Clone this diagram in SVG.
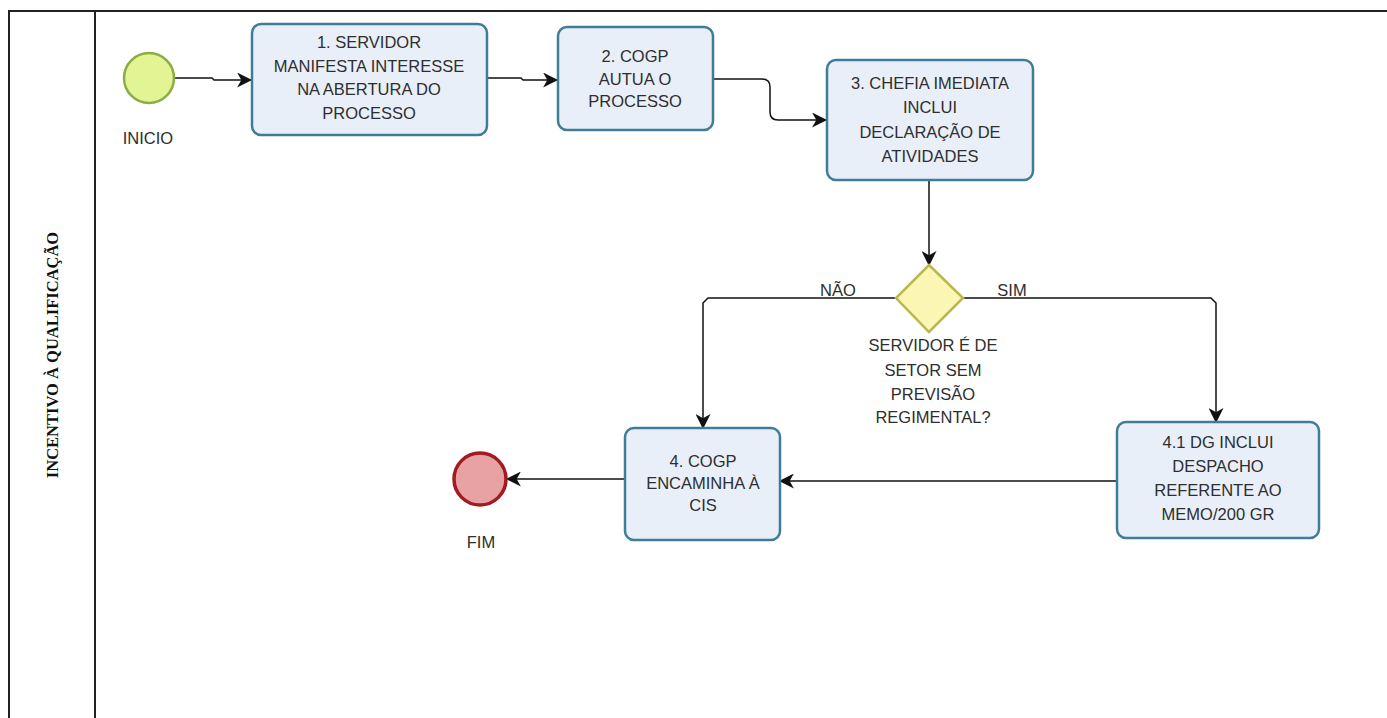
<svg xmlns="http://www.w3.org/2000/svg" width="1387" height="718" viewBox="0 0 1387 718">
<defs>
<marker id="arr" markerUnits="userSpaceOnUse" markerWidth="15" markerHeight="15" viewBox="0 0 14 14" refX="13" refY="7" orient="auto">
<path d="M0,0 L14,7 L0,14 L4,7 Z" fill="#111"/>
</marker>
</defs>
<style>
.task{fill:#e9eff9;stroke:#3f7c98;stroke-width:2.5}
.t{font-family:"Liberation Sans",Arial,sans-serif;font-size:16.5px;fill:#2e2e2e;text-anchor:middle}
.conn path{fill:none;stroke:#111;stroke-width:1.5}
.pool{fill:none;stroke:#222;stroke-width:2}
</style>
<rect x="0" y="0" width="1387" height="718" fill="#fff"/>
<g id="pool">
<path class="pool" d="M1387 11 H9 V718"/>
<path class="pool" d="M95 11 V718"/>
<text x="52" y="355" transform="rotate(-90 52 355)" font-family="Liberation Serif,serif" font-weight="bold" font-size="16.5" text-anchor="middle" dominant-baseline="central" fill="#111">INCENTIVO À QUALIFICAÇÃO</text>
</g>
<g class="conn" id="connectors">
<path d="M175 78 H212 L214 80 H251" marker-end="url(#arr)"/>
<path d="M487 78 H521 L523 80 H557" marker-end="url(#arr)"/>
<path d="M713 79 H762 Q770 79 770 87 V112 Q770 120 778 120 H826" marker-end="url(#arr)"/>
<path d="M929 180 V265" marker-end="url(#arr)"/>
<path d="M896 298 H708 L703 303 V428" marker-end="url(#arr)"/>
<path d="M963 298 H1211 L1216 303 V422" marker-end="url(#arr)"/>
<path d="M1117 481 H780" marker-end="url(#arr)"/>
<path d="M625 479 H507" marker-end="url(#arr)"/>
<text class="t" x="838" y="296">NÃO</text>
<text class="t" x="1012" y="296">SIM</text>
</g>
<g id="start">
<circle cx="149" cy="78" r="25" fill="#e3f494" stroke="#8cad45" stroke-width="2.5"/>
<text class="t" x="148" y="144">INICIO</text>
</g>
<g id="task1">
<rect class="task" x="252" y="24" width="235" height="111" rx="9"/>
<text class="t" x="369" y="48">1. SERVIDOR</text>
<text class="t" x="369" y="72">MANIFESTA INTERESSE</text>
<text class="t" x="369" y="95">NA ABERTURA DO</text>
<text class="t" x="369" y="119">PROCESSO</text>
</g>
<g id="task2">
<rect class="task" x="558" y="27" width="155" height="103" rx="9"/>
<text class="t" x="635" y="62">2. COGP</text>
<text class="t" x="635" y="85">AUTUA O</text>
<text class="t" x="635" y="107">PROCESSO</text>
</g>
<g id="task3">
<rect class="task" x="827" y="60" width="206" height="120" rx="9"/>
<text class="t" x="930" y="89">3. CHEFIA IMEDIATA</text>
<text class="t" x="930" y="113">INCLUI</text>
<text class="t" x="930" y="138">DECLARAÇÃO DE</text>
<text class="t" x="930" y="162">ATIVIDADES</text>
</g>
<g id="gateway">
<path d="M929 265 L963 298 L929 332 L896 298 Z" fill="#fbf6b3" stroke="#b8b84c" stroke-width="2.5"/>
<text class="t" x="933" y="351">SERVIDOR É DE</text>
<text class="t" x="933" y="376">SETOR SEM</text>
<text class="t" x="933" y="400">PREVISÃO</text>
<text class="t" x="933" y="423">REGIMENTAL?</text>
</g>
<g id="task4">
<rect class="task" x="625" y="428" width="155" height="112" rx="9"/>
<text class="t" x="703" y="467">4. COGP</text>
<text class="t" x="703" y="489">ENCAMINHA À</text>
<text class="t" x="703" y="511">CIS</text>
</g>
<g id="task41">
<rect class="task" x="1117" y="422" width="202" height="116" rx="9"/>
<text class="t" x="1218" y="448">4.1 DG INCLUI</text>
<text class="t" x="1218" y="472">DESPACHO</text>
<text class="t" x="1218" y="496">REFERENTE AO</text>
<text class="t" x="1218" y="520">MEMO/200 GR</text>
</g>
<g id="end">
<circle cx="480" cy="479" r="26" fill="#e9a2a3" stroke="#a31b20" stroke-width="3.5"/>
<text class="t" x="481" y="548">FIM</text>
</g>
</svg>
